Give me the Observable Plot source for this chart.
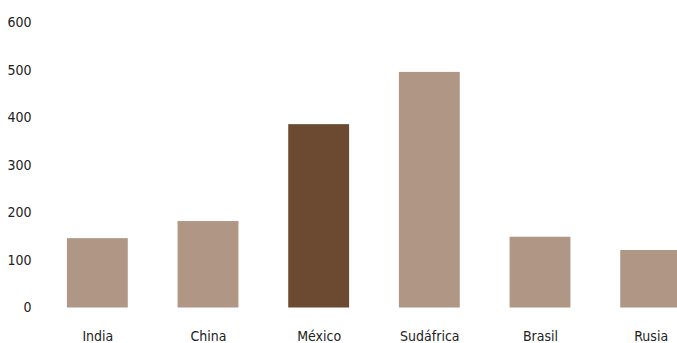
<!DOCTYPE html>
<html>
<head>
<meta charset="utf-8">
<script src="https://cdn.jsdelivr.net/npm/d3@7"></script>
<script src="https://cdn.jsdelivr.net/npm/@observablehq/plot@0.6"></script>
<style>
  html, body { margin: 0; padding: 0; background: #fff; overflow: hidden; }
  #chart svg { display: block; }
  #chart svg text { font-stretch: condensed; }
</style>
</head>
<body>
<div id="chart"></div>
<script>
const categories = ["India", "China", "México", "Sudáfrica", "Brasil", "Rusia"];
const values = [146, 182, 386, 496, 149, 121];
const highlighted = ["México"];
const yTicks = [0, 100, 200, 300, 400, 500, 600];

const data = categories.map((c, i) => ({category: c, value: values[i], hi: highlighted.includes(c)}));

const chart = Plot.plot({
  width: 677,
  height: 343,
  marginLeft: 42,
  marginRight: 0,
  marginTop: 22.5,
  marginBottom: 35.5,
  style: {fontFamily: "'DejaVu Sans Condensed', 'DejaVu Sans', sans-serif", fontSize: "14px", color: "#222", background: "#fff"},
  x: {domain: categories, range: [42, 706], round: false, paddingInner: 0.45, paddingOuter: 0.225, label: null},
  y: {domain: [0, 600], label: null},
  marks: [
    Plot.barY(data, {x: "category", y: "value", fill: d => d.hi ? "#6c4931" : "#b09684"}),
    Plot.axisX({tickSize: 0, tickPadding: 23, label: null}),
    Plot.axisY({ticks: yTicks, tickSize: 0, tickPadding: 11, label: null})
  ]
});
document.getElementById("chart").appendChild(chart);
</script>
</body>
</html>
